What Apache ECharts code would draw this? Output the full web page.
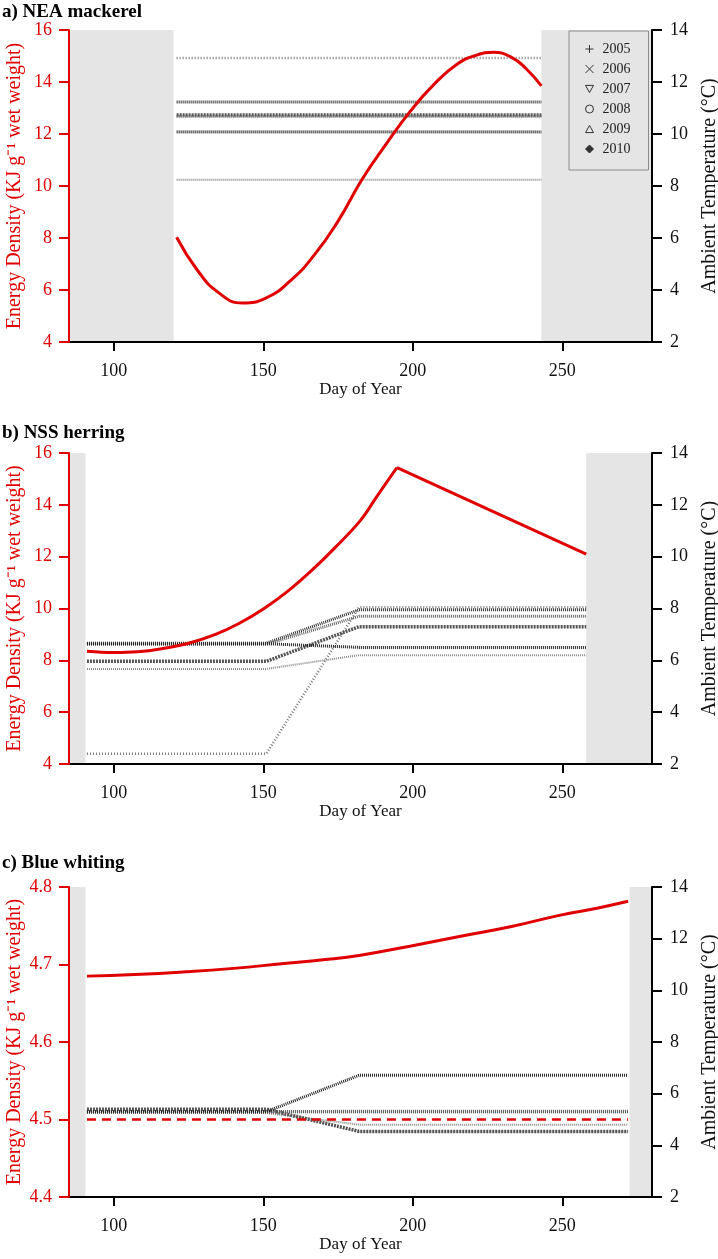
<!DOCTYPE html>
<html>
<head>
<meta charset="utf-8">
<script src="https://cdn.jsdelivr.net/npm/echarts@6/dist/echarts.min.js"></script>
<style>
  html, body { margin: 0; padding: 0; background: #fff; }
  #main { width: 718px; height: 1259px; }
</style>
</head>
<body>
<div id="main"></div>
<script>
  // tick labels / categories
  var xTicks = [100, 150, 200, 250];
  var years = ['2005', '2006', '2007', '2008', '2009', '2010'];

  // a) NEA mackerel - energy density curve
  var mackerelDays = [121, 128, 135, 143, 151, 159, 167, 175, 183, 191, 199, 207, 215, 221, 227, 233, 238, 243];
  var mackerelEnergy = [8.03, 6.75, 5.9, 5.5, 5.7, 6.35, 7.34, 8.65, 10.25, 11.6, 12.85, 13.9, 14.7, 15.02, 15.14, 14.95, 14.5, 13.85];
  // ambient temperature per year (constant over the season)
  var mackerelTempDays = [121, 243];
  var mackerelTemp = [8.24, 11.23, 12.92, 10.73, 10.68, 10.08];
  var mackerelShade = [[85, 120], [243, 280]];

  // b) NSS herring
  var herringRiseDays = [91, 100, 108, 116, 125, 134, 142, 150, 158, 166, 174, 182.5, 188, 194.7];
  var herringRise = [8.35, 8.3, 8.33, 8.45, 8.66, 9.0, 9.43, 9.98, 10.65, 11.45, 12.35, 13.4, 14.33, 15.44];
  var herringFallDays = [194.7, 258];
  var herringFall = [15.44, 12.1];
  var herringTempDays = [91, 151, 182, 258];
  var herringTemp = [
    [5.67, 5.67, 6.2, 6.2],
    [6.66, 6.66, 7.95, 7.95],
    [2.4, 2.4, 8.05, 8.05],
    [5.96, 5.96, 7.3, 7.3],
    [6.62, 6.62, 7.7, 7.7],
    [6.64, 6.64, 6.5, 6.5]
  ];
  var herringShade = [[85, 90.5], [258, 280]];

  // c) Blue whiting
  var whitingDays = [91, 107, 124, 140, 157, 170, 182.5, 199, 216, 233, 249, 262, 272];
  var whitingEnergy = [4.685, 4.687, 4.6905, 4.695, 4.7013, 4.706, 4.712, 4.7236, 4.7364, 4.749, 4.7634, 4.773, 4.7816];
  var whitingRefDays = [91, 272];
  var whitingRef = [4.5, 4.5];
  var whitingTempDays = [91, 151, 182, 272];
  var whitingTemp = [
    [5.25, 5.25, 4.8, 4.8],
    [5.3, 5.3, 5.3, 5.3],
    [5.35, 5.35, 4.54, 4.54],
    [5.4, 5.4, 4.54, 4.54],
    [5.3, 5.3, 5.32, 5.32],
    [5.3, 5.3, 6.71, 6.71]
  ];
  var whitingShade = [[85, 90.5], [272.5, 280]];

  var RED = '#e00000';
  var FONT = 'Liberation Serif';

  // look of the dense marker rows, one per year
  var yearLine = [
    { color: '#8a8a8a', width: 2, type: [1, 1] },
    { color: '#333', width: 3, type: [1, 1] },
    { color: '#777', width: 2.5, type: [1, 2] },
    { color: '#555', width: 3.5, type: [2, 1] },
    { color: '#666', width: 3, type: [1, 1] },
    { color: '#222', width: 3, type: [1, 1] }
  ];
  var yearIcon = [
    'path://M5,0V10M0,5H10',
    'path://M0,0L10,10M10,0L0,10',
    'path://M0,0H10L5,9Z',
    'circle',
    'path://M5,0L10,9H0Z',
    'diamond'
  ];

  function zip(xs, ys) {
    var out = [];
    for (var i = 0; i < xs.length; i++) out.push([xs[i], ys[i]]);
    return out;
  }

  var grids = [
    { left: 69, right: 66, top: 30, height: 312, outerBoundsMode: 'none' },
    { left: 69, right: 66, top: 453, height: 311, outerBoundsMode: 'none' },
    { left: 69, right: 66, top: 887, height: 310, outerBoundsMode: 'none' }
  ];

  var xAxes = [];
  var yAxes = [];
  var series = [];

  for (var g = 0; g < 3; g++) {
    xAxes.push({
      type: 'value', gridIndex: g, min: 85, max: 280, z: 10,
      name: 'Day of Year', nameLocation: 'middle', nameGap: 38,
      nameTextStyle: { fontFamily: FONT, fontSize: 17, color: '#111' },
      axisLine: { show: true, onZero: false, lineStyle: { color: '#000', width: 2 } },
      axisTick: { show: true, length: 9, customValues: xTicks, lineStyle: { color: '#000', width: 2 } },
      axisLabel: { customValues: xTicks, fontFamily: FONT, fontSize: 18, color: '#111', margin: 20 },
      splitLine: { show: false }
    });
    var isC = g === 2;
    yAxes.push({
      type: 'value', gridIndex: g, position: 'left', z: 11,
      min: isC ? 4.4 : 4, max: isC ? 4.8 : 16, interval: isC ? 0.1 : 2,
      name: 'Energy Density (KJ g\u207B\u00B9 wet weight)', nameLocation: 'middle', nameGap: 44,
      nameMoveOverlap: false,
      nameTextStyle: { fontFamily: FONT, fontSize: 20, color: RED },
      axisLine: { show: true, onZero: false, lineStyle: { color: RED, width: 2 } },
      axisTick: { show: true, length: 10, lineStyle: { color: RED, width: 2 } },
      axisLabel: {
        fontFamily: FONT, fontSize: 18, color: RED, margin: 17,
        formatter: isC ? function (v) { return v.toFixed(1); } : '{value}'
      },
      splitLine: { show: false }
    });
    yAxes.push({
      type: 'value', gridIndex: g, position: 'right', min: 2, max: 14, interval: 2, z: 10,
      name: 'Ambient Temperature (\u00B0C)', nameLocation: 'middle', nameGap: 48,
      nameTextStyle: { fontFamily: FONT, fontSize: 20, color: '#111' },
      axisLine: { show: true, onZero: false, lineStyle: { color: '#000', width: 2 } },
      axisTick: { show: true, length: 10, lineStyle: { color: '#000', width: 2 } },
      axisLabel: { fontFamily: FONT, fontSize: 18, color: '#111', margin: 18 },
      splitLine: { show: false }
    });
  }

  function shadeSeries(g, ranges) {
    var areas = [];
    for (var i = 0; i < ranges.length; i++) {
      areas.push([{ xAxis: ranges[i][0] }, { xAxis: ranges[i][1] }]);
    }
    return {
      type: 'line', xAxisIndex: g, yAxisIndex: g * 2, data: [], z: 1, silent: true,
      markArea: { silent: true, itemStyle: { color: '#e5e5e5' }, data: areas }
    };
  }

  function redLine(g, xs, ys, smooth, dashed) {
    return {
      type: 'line', xAxisIndex: g, yAxisIndex: g * 2, data: zip(xs, ys), z: 5,
      smooth: smooth, showSymbol: false, symbol: 'none', silent: true,
      lineStyle: { color: RED, width: 3, type: dashed ? [9, 6] : 'solid' }
    };
  }

  function tempLines(g, xs, rows) {
    for (var i = 0; i < years.length; i++) {
      series.push({
        name: years[i], type: 'line', xAxisIndex: g, yAxisIndex: g * 2 + 1,
        data: zip(xs, rows[i]), showSymbol: false, symbol: 'none', z: 3, silent: true,
        lineStyle: yearLine[i]
      });
    }
  }

  // a)
  series.push(shadeSeries(0, mackerelShade));
  var mackRows = [];
  for (var k = 0; k < mackerelTemp.length; k++) mackRows.push([mackerelTemp[k], mackerelTemp[k]]);
  tempLines(0, mackerelTempDays, mackRows);
  series.push(redLine(0, mackerelDays, mackerelEnergy, 0.5, false));

  // b)
  series.push(shadeSeries(1, herringShade));
  tempLines(1, herringTempDays, herringTemp);
  series.push(redLine(1, herringRiseDays, herringRise, 0.4, false));
  series.push(redLine(1, herringFallDays, herringFall, false, false));

  // c)
  series.push(shadeSeries(2, whitingShade));
  tempLines(2, whitingTempDays, whitingTemp);
  series.push(redLine(2, whitingDays, whitingEnergy, 0.5, false));
  var refLine = redLine(2, whitingRefDays, whitingRef, false, true);
  refLine.lineStyle.width = 2.5;
  series.push(refLine);

  var legendData = [];
  for (var y = 0; y < years.length; y++) {
    var filled = yearIcon[y] === 'diamond';
    legendData.push({
      name: years[y], icon: yearIcon[y],
      itemStyle: { color: filled ? '#333' : 'none', borderColor: '#333', borderWidth: 1 }
    });
  }

  var titleStyle = { fontFamily: FONT, fontSize: 19, fontWeight: 'bold', color: '#000' };
  var myChart = echarts.init(document.getElementById('main'), null, { renderer: 'canvas' });
  var option = {
    animation: false,
    backgroundColor: '#fff',
    title: [
      { text: 'a) NEA mackerel', left: 2, top: 3, padding: 0, textStyle: titleStyle },
      { text: 'b) NSS herring', left: 2, top: 424, padding: 0, textStyle: titleStyle },
      { text: 'c) Blue whiting', left: 2, top: 854, padding: 0, textStyle: titleStyle }
    ],
    legend: {
      orient: 'vertical', left: 569, top: 31,
      backgroundColor: '#e5e5e5', borderColor: '#8c8c8c', borderWidth: 1,
      padding: [11, 18, 14, 14], itemGap: 6, itemWidth: 8, itemHeight: 8,
      textStyle: { fontFamily: FONT, fontSize: 14, color: '#222', padding: [0, 0, 0, 4] },
      selectedMode: false,
      data: legendData
    },
    grid: grids,
    xAxis: xAxes,
    yAxis: yAxes,
    series: series
  };
  myChart.setOption(option, true);
</script>
</body>
</html>
